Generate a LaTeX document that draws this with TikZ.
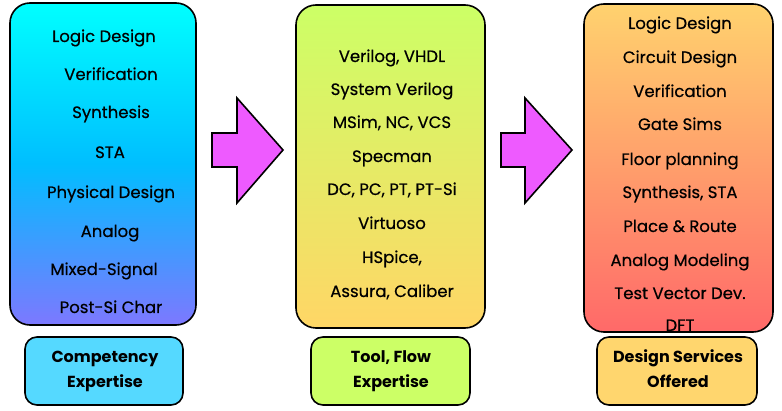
\documentclass[tikz,border=0pt]{standalone}
\usepackage{fontspec}
\setmainfont{Poppins}
\newfontfamily\itemfont{Poppins}[FakeBold=0.5]
\definecolor{cyanT}{RGB}{0,255,255}
\definecolor{cyanM}{RGB}{0,190,255}
\definecolor{cyanB}{RGB}{125,120,255}
\definecolor{limeT}{RGB}{204,255,102}
\definecolor{limeB}{RGB}{255,214,102}
\definecolor{orT}{RGB}{255,210,110}
\definecolor{orB}{RGB}{255,105,105}
\definecolor{lblA}{RGB}{85,217,255}
\definecolor{lblB}{RGB}{204,255,102}
\definecolor{lblC}{RGB}{255,214,110}
\definecolor{arrowfill}{RGB}{238,90,255}
\tikzset{
  panel/.style={draw=black, line width=1.6pt, rounded corners=20pt},
  lbl/.style={draw=black, line width=1.6pt, rounded corners=12pt},
  item/.style={anchor=base, font=\itemfont\fontsize{16.5}{19}\selectfont, inner sep=0pt},
  lbltext/.style={anchor=base, font=\fontsize{16}{19}\selectfont\bfseries, inner sep=0pt},
  bigarrow/.style={draw=black, line width=1.6pt, fill=arrowfill, line join=miter},
}
\begin{document}
\begin{tikzpicture}[x=1pt,y=-1pt]
\useasboundingbox (0,0) rectangle (782,411);
% panels
\draw[panel, top color=cyanT, bottom color=cyanB, middle color=cyanM] (10,3) rectangle (196,325);
\draw[panel, top color=limeT, bottom color=limeB] (296,5) rectangle (485,328);
\draw[panel, top color=orT, bottom color=orB] (584,4) rectangle (773,332);
% label boxes
\node[lbl, fill=lblA, minimum width=158pt, minimum height=68pt] (la) at (104,371) {};
\node[lbl, fill=lblB, minimum width=159pt, minimum height=68pt] (lb) at (390.5,371) {};
\node[lbl, fill=lblC, minimum width=160pt, minimum height=68pt] (lc) at (677,371) {};
% arrows
\draw[bigarrow] (212,133) -- (237,133) -- (237,98) -- (283,150) -- (237,203) -- (237,167) -- (212,167) -- cycle;
\draw[bigarrow] (501,133) -- (525,133) -- (525,98) -- (572,150) -- (525,203) -- (525,167) -- (501,167) -- cycle;
% left items
\node[item] (a1) at (104,42) {Logic Design};
\node[item] (a2) at (111,80) {Verification};
\node[item] (a3) at (111,118) {Synthesis};
\node[item] (a4) at (110,158) {STA};
\node[item] (a5) at (111,198) {Physical Design};
\node[item] (a6) at (110,237) {Analog};
\node[item] (a7) at (104,275) {Mixed-Signal};
\node[item] (a8) at (111,313) {Post-Si Char};
% middle items
\node[item] (b1) at (392,62) {Verilog, VHDL};
\node[item] (b2) at (392,95) {System Verilog};
\node[item] (b3) at (392,128) {MSim, NC, VCS};
\node[item] (b4) at (392,162) {Specman};
\node[item] (b5) at (392,195) {DC, PC, PT, PT-Si};
\node[item] (b6) at (392,229) {Virtuoso};
\node[item] (b7) at (392,263) {HSpice,};
\node[item] (b8) at (392,297) {Assura, Caliber};
% right items
\node[item] (c1) at (680,29) {Logic Design};
\node[item] (c2) at (680,63) {Circuit Design};
\node[item] (c3) at (680,97) {Verification};
\node[item] (c4) at (680,130) {Gate Sims};
\node[item] (c5) at (680,165) {Floor planning};
\node[item] (c6) at (680,198) {Synthesis, STA};
\node[item] (c7) at (680,232) {Place \& Route};
\node[item] (c8) at (680,266) {Analog Modeling};
\node[item] (c9) at (680,299) {Test Vector Dev.};
\node[item] (c10) at (680,331) {DFT};
% label texts
\node[lbltext] (la1) at (105,363) {Competency};
\node[lbltext] (la2) at (105,388) {Expertise};
\node[lbltext] (lb1) at (391,363) {Tool, Flow};
\node[lbltext] (lb2) at (391,388) {Expertise};
\node[lbltext] (lc1) at (678,363) {Design Services};
\node[lbltext] (lc2) at (678,388) {Offered};
\end{tikzpicture}
\end{document}
